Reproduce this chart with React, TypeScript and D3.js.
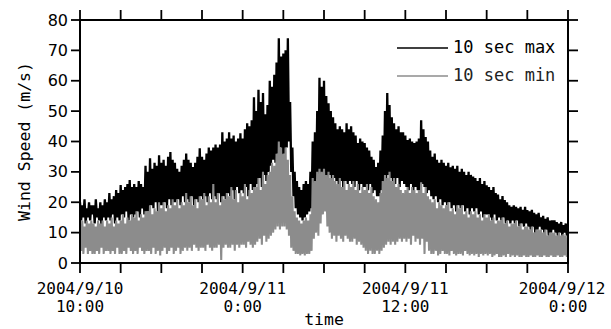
import React from "react";
import * as d3 from "d3";

// 10-second gust maxima/minima (m/s), one reading every 5 minutes
// from 2004/9/10 10:00 onward (12 readings per hour).
const maxSpeed: number[] = [
  20,14,19,15,21,13,18,15,20,14,19,16,
  19,13,21,15,18,14,20,12,19,15,21,14,
  20,15,23,14,21,16,22,13,24,15,23,14,
  25.7,16,24,15,25,17,26,14,27.3,16,25,15,
  26,16,25,17,27,15,26,18,25,16,32,17,
  30,17,34.5,19,31,18,33,20,32,17,35.5,19,
  33,19,34,20,32,18,35,21,36.5,19,34,20,
  33,20,31,21,30,19,32,22,34,20,36,21,
  34,20,33,22,31.6,19,33,21,35,20,37.8,22,
  35,21,34,22,36,20,38,23,37,21,38,22,
  39,21,38,23,39,20,43,22,40,21,41,23,
  43,22,41,24,42,21,40,25,41,23,42.7,24,
  41,23,44,25,46,22,45,26,47,24,54.6,25,
  50,26,57,28,53,25,56,29,49,27,52,30,
  60,32,58,34,62,33,66,36,74,38,68,35,
  69,36,70,38,74,40,53,30,38,22,30,18,
  27,16,25,15,24,14,26,15,27,16,26,17,
  30,18,40,20,43,24,50,26,61,28,58,27,
  60,28,55,27,52.6,29,50,26,48,28,46,27,
  44,26,45,27,44,25,43,27,46,26,44,27,
  45,26,43,25,42,27,39.5,24,41,26,40,25,
  39.5,25,38,24,37,26,35,23,34,24,31.6,22,
  33,22,37,24,42,26,50,27,56,29,52,28,
  48,27,46,26,44,28,45,25,43,27,43,26,
  42,25,40.5,24,41,26,40,23,39.5,25,40,24,
  41,24,47,26,44,25,41.5,23,40,24,37,22,
  35,21,36,22,34,20,33,21,34,19,33,20,
  32,19,33,20,31.5,18,32,19,31,17,32,19,
  30,18,31,19,30,17,29,18,30,16,29,18,
  28.5,17,28,18,27,16,28,17,26,15,27,16,
  25.6,16,25,15,24,14,25,16,23,14,22.5,15,
  21,14,22,15,20.7,13,20,14,19,13,18.5,14,
  19,13,18.5,14,18,12,18.5,13,17.5,12,18.5,13,
  17.4,12,17,11,17.5,12,16.5,10,16,11,16.5,12,
  15,11,15.5,10,14.5,11,15,9,14,10,14,11,
  14,10,13.5,9,13,10,13.5,9,12.5,10,13,9,
  12.5,
];

const minSpeed: number[] = [
  13,4,14,3,12,5,14,3,13,4,14,3,
  13,3,12,4,14,3,13,5,14,3,12,4,
  14,4,13,3,15,4,12,3,14,5,13,3,
  14,3,16,4,13,3,15,5,14,4,16,3,
  15,4,17,3,14,5,16,4,15,3,17,4,
  17,4,19,3,16,5,18,3,17,4,20,2.5,
  18,4,20,5,17,3,19,4,18,5,21,3,
  19,4,21,5,18,3,20,4,19,5,23,4,
  20,5,22,4,19,6,21,5,18,4,22,5,
  21,5,23,4,19,6,22,5,20,4,26,5,
  20,5,23,6,19,1,22,5,21,6,23,5,
  22,5,25,6,21,4,24,6,20,5,23,6,
  22,6,26,5,21,7,24,6,23,5,25,6,
  25,7,28,8,24,6,30,9,26,7,29,8,
  30,9,33,10,32,11,36,12,40,11,38,12,
  36,12,38,11,34,9,29,5,22,4,17,3,
  15,3,14,2.5,13,3,14,2.5,15,3,14,3,
  16,4,28,8,27,10,30,9,31,13,30,16,
  31,17,29,12,30,10,28,8,29,9,27,7,
  26,9,28,8,25,7,27,9,24,8,26,7,
  25,7,27,8,24,6,26,7,23,6,25,5,
  24,4,26,3,23,4,25,3,22,3,21,4,
  20,3,23,4,27,5,29,6,28,7,30,6,
  27,7,28,6,25,7,26,8,24,7,23,8,
  24,7,25,8,23,6,25,9,24,7,23,8,
  24,6,26.6,8,23,3,25,7,22,4,21,3,
  20,3,21,4,18,2.5,20,3,19,4,18,3,
  19,3,20,2.5,17,4,18,3,16,2.5,19,3,
  18,3,19,2.5,16,4,17,3,15,2.5,17,3,
  16,2.5,17,3,15,2,16,3,14,2.5,16,3,
  15,2.5,16,3,14,2,15,2.5,13,3,14,2,
  14,2,15,2.5,13,2,14,3,12,2,13,2.5,
  13,2,14,2.5,12,2,13,2,11,2.5,12,2,
  12,2,11,2.5,12,2,10,2,11,2.5,11,2,
  11,2,10,2.5,11,2,9,2,10,2.5,10,2,
  10,2,9,2.5,10,2,9,2,9.5,2.5,9,2,
  8,
];

const readingsPerHour = 12;
const spanHours = 36;
const yTicks = [0, 10, 20, 30, 40, 50, 60, 70, 80];
const xMinorTickHours = [0, 3, 6, 9, 12, 15, 18, 21, 24, 27, 30, 33, 36];
const xLabelHours = [0, 12, 24, 36];
const xLabels: [string, string][] = [
  ["2004/9/10", "10:00"],
  ["2004/9/11", "0:00"],
  ["2004/9/11", "12:00"],
  ["2004/9/12", "0:00"],
];
const seriesNames = ["10 sec max", "10 sec min"];

const W = 611;
const H = 329;
const left = 80;
const right = 568;
const top = 20;
const bottom = 263;

const MONO = "'DejaVu Sans Mono', monospace";
const SANS = "'DejaVu Sans', sans-serif";
const GRAY = "#8c8c8c";

export default function App() {
  const x = d3.scaleLinear().domain([0, spanHours]).range([left, right]);
  const y = d3.scaleLinear().domain([0, 80]).range([bottom, top]);

  const line = d3
    .line<number>()
    .x((_, i) => x(i / readingsPerHour))
    .y((d) => y(d));

  // keep the right-most date label inside the picture
  const labelX = (h: number) => Math.min(x(h), W - 49);

  return (
    <svg
      width={W}
      height={H}
      style={{ position: "absolute", left: 0, top: 0, background: "#fff" }}
    >
      <defs>
        <clipPath id="plotArea">
          <rect x={left} y={top} width={right - left} height={bottom - top} />
        </clipPath>
      </defs>

      <g clipPath="url(#plotArea)">
        <path
          d={line(maxSpeed) ?? ""}
          fill="none"
          stroke="#000"
          strokeWidth={2.3}
          strokeLinejoin="miter"
          strokeMiterlimit={2}
        />
        <path
          d={line(minSpeed) ?? ""}
          fill="none"
          stroke={GRAY}
          strokeWidth={2.1}
          strokeLinejoin="miter"
          strokeMiterlimit={2}
        />
      </g>

      {/* frame */}
      <rect
        x={left}
        y={top}
        width={right - left}
        height={bottom - top}
        fill="none"
        stroke="#000"
        strokeWidth={2}
      />

      {/* y ticks, left (labelled) and right */}
      {yTicks.map((v) => (
        <g key={"y" + v}>
          <line x1={left - 9} x2={left} y1={y(v)} y2={y(v)} stroke="#000" strokeWidth={1.8} />
          {v > 0 && (
            <line x1={right} x2={right + 10} y1={y(v)} y2={y(v)} stroke="#000" strokeWidth={1.8} />
          )}
          <text
            x={left - 12}
            y={y(v)}
            textAnchor="end"
            dominantBaseline="central"
            fontFamily={SANS}
            fontSize={16}
            fill="#000"
          >
            {v}
          </text>
        </g>
      ))}

      {/* x ticks, bottom and top */}
      {xMinorTickHours.map((h) => (
        <g key={"x" + h}>
          <line x1={x(h)} x2={x(h)} y1={bottom} y2={bottom + 10} stroke="#000" strokeWidth={1.8} />
          <line x1={x(h)} x2={x(h)} y1={top} y2={top - 10} stroke="#000" strokeWidth={1.8} />
        </g>
      ))}

      {xLabelHours.map((h, i) => (
        <g key={"xl" + h}>
          <text
            x={labelX(h)}
            y={294}
            textAnchor="middle"
            fontFamily={MONO}
            fontSize={16}
            fill="#000"
          >
            {xLabels[i][0]}
          </text>
          <text
            x={x(h)}
            y={312}
            textAnchor="middle"
            fontFamily={MONO}
            fontSize={16}
            fill="#000"
          >
            {xLabels[i][1]}
          </text>
        </g>
      ))}

      <text
        x={(left + right) / 2}
        y={325}
        textAnchor="middle"
        fontFamily={MONO}
        fontSize={16.5}
        fill="#000"
      >
        time
      </text>

      <text
        transform={`translate(30,${(top + bottom) / 2}) rotate(-90)`}
        textAnchor="middle"
        fontFamily={MONO}
        fontSize={16.5}
        fill="#000"
      >
        Wind Speed (m/s)
      </text>

      {/* legend */}
      <line x1={397} x2={448} y1={48} y2={48} stroke="#000" strokeWidth={1.6} />
      <text x={453} y={53} fontFamily={MONO} fontSize={17} fill="#000">
        {seriesNames[0]}
      </text>
      <line x1={397} x2={448} y1={76} y2={76} stroke={GRAY} strokeWidth={1.4} />
      <text x={453} y={81} fontFamily={MONO} fontSize={17} fill="#222">
        {seriesNames[1]}
      </text>
    </svg>
  );
}
